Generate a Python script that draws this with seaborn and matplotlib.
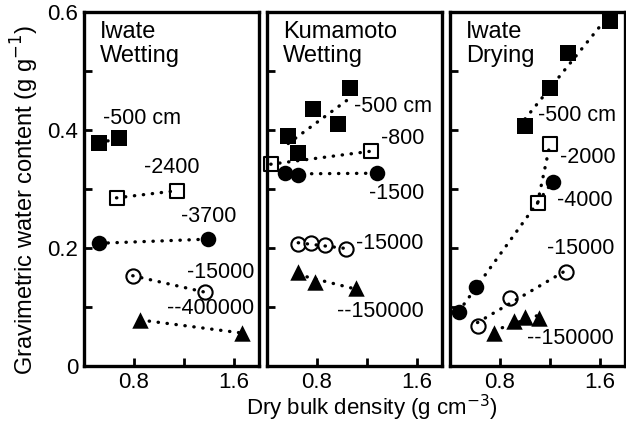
import matplotlib
matplotlib.use("Agg")
import matplotlib.pyplot as plt
import seaborn as sns
import numpy as np

sns.set_style("ticks")
plt.rcParams['font.family'] = ['Liberation Sans', 'DejaVu Sans']
plt.rcParams.update({"text.color": "black", "axes.edgecolor": "black",
                     "xtick.color": "black", "ytick.color": "black",
                     "axes.labelcolor": "black"})

panel_titles = ["Iwate\nWetting", "Kumamoto\nWetting", "Iwate\nDrying"]

# Iwate wetting
iw_labels = ["-500 cm", "-2400", "-3700", "-15000", "--400000"]
iw_x = [[0.52, 0.68], [0.66, 1.14], [0.52, 1.39], [0.79, 1.37], [0.85, 1.66]]
iw_y = [[0.378, 0.386], [0.285, 0.297], [0.208, 0.215], [0.153, 0.125], [0.078, 0.056]]

# Kumamoto wetting
kw_labels = ["-500 cm", "-800", "-1500", "-15000", "--150000"]
kw_x = [[0.57, 0.65, 0.77, 0.97, 1.06], [0.43, 1.23], [0.54, 0.65, 1.28],
        [0.65, 0.75, 0.86, 1.03], [0.65, 0.78, 1.11]]
kw_y = [[0.390, 0.361, 0.436, 0.410, 0.471], [0.342, 0.364], [0.327, 0.324, 0.327],
        [0.207, 0.208, 0.205, 0.198], [0.159, 0.142, 0.132]]

# Iwate drying
id_labels = ["-500 cm", "-2000", "-4000", "-15000", "--150000"]
id_x = [[1.00, 1.20, 1.34, 1.68], [1.10, 1.20], [0.47, 0.61, 1.22],
        [0.62, 0.88, 1.33], [0.75, 0.91, 1.00, 1.11]]
id_y = [[0.407, 0.471, 0.531, 0.585], [0.276, 0.376], [0.092, 0.134, 0.312],
        [0.068, 0.115, 0.159], [0.056, 0.076, 0.083, 0.081]]

# label anchor positions (data coords, left / center)
iw_lpos = [(0.55, 0.42), (0.88, 0.336), (1.18, 0.254), (1.22, 0.158), (1.06, 0.097)]
kw_lpos = [(1.10, 0.44), (1.31, 0.385), (1.22, 0.292), (1.11, 0.207), (0.96, 0.093)]
id_lpos = [(1.10, 0.424), (1.28, 0.353), (1.26, 0.28), (1.18, 0.20), (1.02, 0.047)]

# marker styles per series: filled square, open square, filled circle, open circle, triangle
styles = [dict(marker="s", s=135, facecolor="black", edgecolor="black", linewidths=0),
          dict(marker="s", s=105, facecolor="white", edgecolor="black", linewidths=1.5),
          dict(marker="o", s=125, facecolor="black", edgecolor="black", linewidths=0),
          dict(marker="o", s=105, facecolor="white", edgecolor="black", linewidths=1.5),
          dict(marker="^", s=140, facecolor="black", edgecolor="black", linewidths=0)]

panels = [(iw_x, iw_y, iw_labels, iw_lpos),
          (kw_x, kw_y, kw_labels, kw_lpos),
          (id_x, id_y, id_labels, id_lpos)]

W, H = 626, 424
fig = plt.figure(figsize=(W / 100, H / 100), dpi=100)
lefts = [84, 267, 450]
pw, bottom, top = 175, 366, 12

for i, (xs, ys, labs, lpos) in enumerate(panels):
    ax = fig.add_axes([lefts[i] / W, (H - bottom) / H, pw / W, (bottom - top) / H])
    for j in range(len(xs)):
        st = styles[j]
        sns.regplot(x=np.array(xs[j]), y=np.array(ys[j]), ax=ax, ci=None,
                    marker=st["marker"],
                    scatter_kws=dict(s=st["s"], facecolor=st["facecolor"],
                                     edgecolor=st["edgecolor"], linewidths=st["linewidths"],
                                     alpha=1, clip_on=False, zorder=2),
                    line_kws=dict(color="black", lw=2.4, ls=(0, (0.1, 2.6)),
                                  dash_capstyle="round", zorder=3))
        ax.text(lpos[j][0], lpos[j][1], labs[j], fontsize=15.5, ha="left", va="center")
    ax.text(0.09, 0.975, panel_titles[i], transform=ax.transAxes, fontsize=17,
            ha="left", va="top", linespacing=1.1)
    ax.set_xlim(0.4, 1.8)
    ax.set_ylim(0, 0.6)
    ax.set_xticks([0.8, 1.2, 1.6])
    ax.set_xticklabels(["0.8", "", "1.6"])
    ax.set_yticks([0, 0.1, 0.2, 0.3, 0.4, 0.5, 0.6])
    if i == 0:
        ax.set_yticklabels(["0", "", "0.2", "", "0.4", "", "0.6"])
    else:
        ax.set_yticklabels([""] * 7)
    ax.tick_params(direction="in", length=6, width=2, labelsize=16, pad=4)
    for sp in ax.spines.values():
        sp.set_visible(True)
        sp.set_linewidth(2.4)
    ax.set_xlabel("")
    ax.set_ylabel("")

fig.text(372 / W, 1 - 423 / H, "Dry bulk density (g cm$^{-3}$)", fontsize=16,
         ha="center", va="bottom")
fig.text(25 / W, 1 - 200 / H, "Gravimetric water content (g g$^{-1}$)", fontsize=17,
         ha="center", va="center", rotation=90)

fig.savefig("out.png", dpi=100)
